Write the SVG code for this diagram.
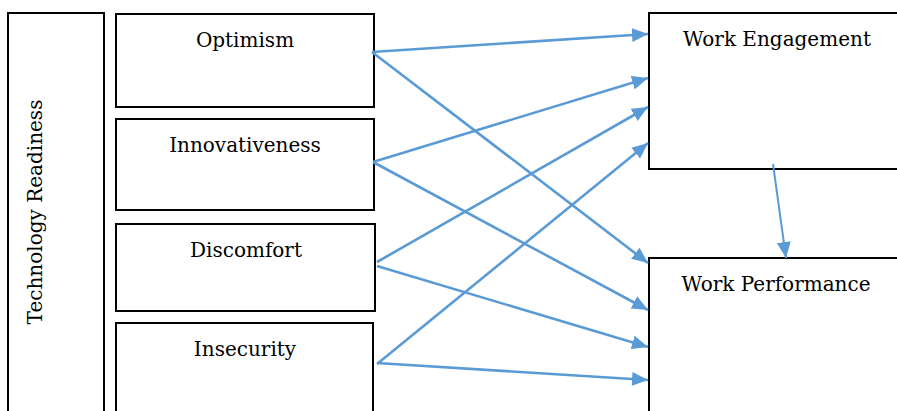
<svg xmlns="http://www.w3.org/2000/svg" width="897" height="411" viewBox="0 0 897 411">
<style>
.box{fill:#fff;stroke:#000;stroke-width:2}
.lbl{font-family:"DejaVu Serif","Liberation Serif",serif;font-size:20px;fill:#000;text-anchor:middle}
.arr{stroke:#5B9BD5;stroke-width:2.6;fill:none;marker-end:url(#ah)}
.arr.thin{stroke-width:2}
</style>
<defs>
<marker id="ah" markerUnits="userSpaceOnUse" markerWidth="16" markerHeight="14" viewBox="0 0 16 14" refX="16" refY="7" orient="auto">
<path d="M0,0 L16,7 L0,14 z" fill="#5B9BD5"/>
</marker>
</defs>
<rect width="897" height="411" fill="#fff"/>
<g id="tech-readiness">
<rect class="box" x="8" y="13" width="96" height="410"/>
<text class="lbl" transform="translate(42,212) rotate(-90)">Technology Readiness</text>
</g>
<g id="optimism">
<rect class="box" x="116" y="14" width="258" height="93"/>
<text class="lbl" x="245" y="47">Optimism</text>
</g>
<g id="innovativeness">
<rect class="box" x="116" y="119" width="258" height="91"/>
<text class="lbl" x="245" y="152">Innovativeness</text>
</g>
<g id="discomfort">
<rect class="box" x="116" y="224" width="259" height="87"/>
<text class="lbl" x="246" y="257">Discomfort</text>
</g>
<g id="insecurity">
<rect class="box" x="116" y="323" width="257" height="100"/>
<text class="lbl" x="245" y="356">Insecurity</text>
</g>
<g id="work-engagement">
<rect class="box" x="649" y="13" width="260" height="156"/>
<text class="lbl" x="777" y="46">Work Engagement</text>
</g>
<g id="work-performance">
<rect class="box" x="649" y="258" width="260" height="170"/>
<text class="lbl" x="776" y="291">Work Performance</text>
</g>
<g id="connectors">
<line class="arr" x1="372" y1="52" x2="648" y2="34"/>
<line class="arr" x1="372" y1="52" x2="648" y2="263"/>
<line class="arr" x1="373" y1="162" x2="648" y2="78"/>
<line class="arr" x1="373" y1="162" x2="648" y2="310"/>
<line class="arr" x1="377" y1="262" x2="648" y2="107"/>
<line class="arr" x1="377" y1="266" x2="648" y2="347"/>
<line class="arr" x1="377" y1="364" x2="648" y2="143"/>
<line class="arr" x1="377" y1="363" x2="648" y2="380"/>
<line class="arr thin" x1="773" y1="164" x2="786" y2="258"/>
</g>
</svg>
